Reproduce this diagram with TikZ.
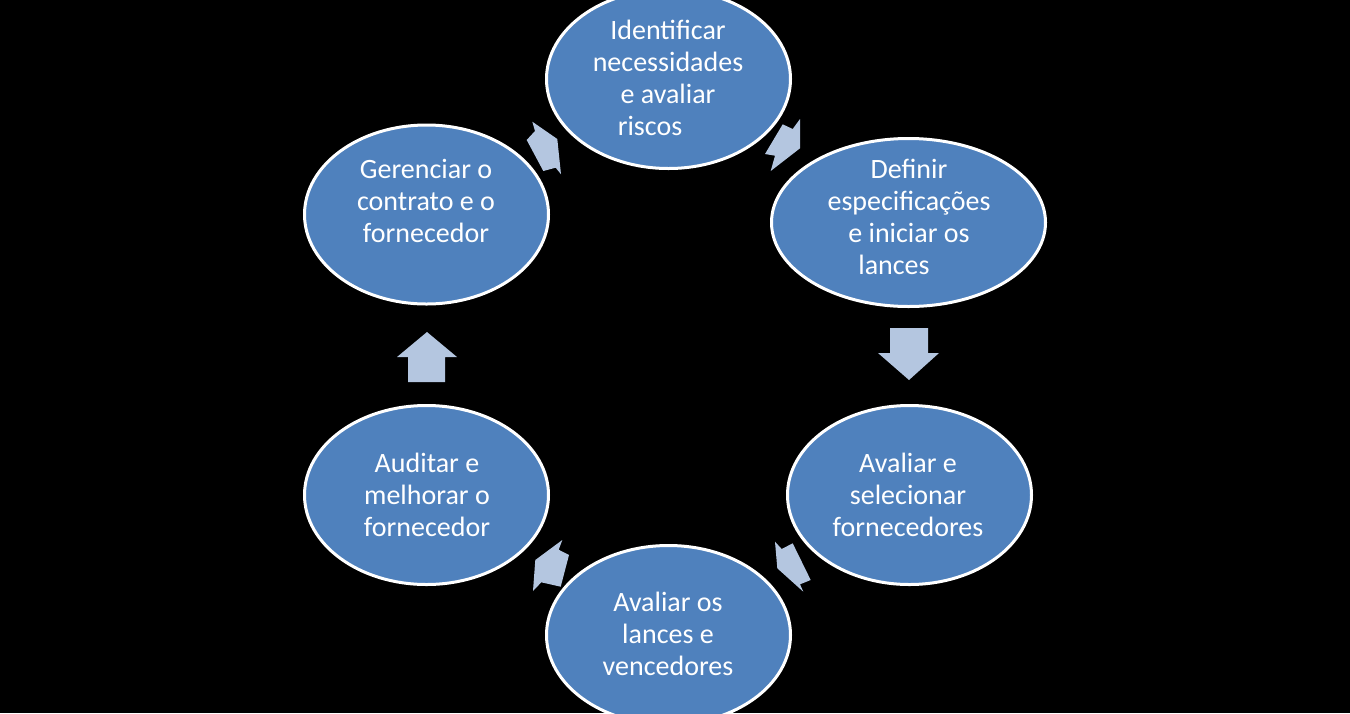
\documentclass[tikz,border=0pt]{standalone}
\usepackage{fontspec}
\setmainfont{Carlito}
\usetikzlibrary{shapes.geometric}
\definecolor{ellfill}{HTML}{4F81BD}
\definecolor{arrfill}{HTML}{B4C6E0}
\begin{document}
\begin{tikzpicture}[x=1pt,y=-1pt,
  stage/.style={ellipse, draw=white, line width=3pt, fill=ellfill,
    minimum width=244pt, minimum height=179pt, inner sep=0pt},
  widestage/.style={minimum width=274pt, minimum height=168pt},
  stagetext/.style={text=white, align=center, inner sep=0pt,
    font=\fontsize{28}{32}\selectfont},
  blockarrow/.style={fill=arrfill}]
\useasboundingbox (0,0) rectangle (1350,713);
\clip (0,0) rectangle (1350,713);
\fill[black] (0,0) rectangle (1350,713);

% block arrows
\fill[blockarrow] (890,328) -- (928,328) -- (928,353) -- (939,353) -- (909,380) -- (878,353) -- (890,353) -- cycle;
\fill[blockarrow] (408,382) -- (445,382) -- (445,357) -- (457,357) -- (427,332) -- (397,357) -- (408,357) -- cycle;
\fill[blockarrow] (526.7,140) -- (535,131) -- (532.3,121.7) -- (557.3,139) -- (561,174.3) -- (555.7,167.7) -- (543.3,171) -- cycle;
\fill[blockarrow] (782.7,124.3) -- (792.7,129) -- (800,119) -- (800,148.3) -- (770.7,171) -- (775,155.7) -- (765,154) -- cycle;
\fill[blockarrow] (792.7,543.3) -- (781.7,549) -- (775,541.7) -- (777.3,568.3) -- (803.3,591.7) -- (800,584.3) -- (810.7,580) -- cycle;
\fill[blockarrow] (569,555) -- (558.7,549.7) -- (562.3,540) -- (535.3,560) -- (533,591) -- (541.3,582.3) -- (560.7,586.7) -- cycle;

% ellipses
\node[stage] (e1) at (668.5,79) {};
\node[stage, widestage] (e2) at (908.5,222.5) {};
\node[stage] (e3) at (909.5,495) {};
\node[stage] (e4) at (668.5,635) {};
\node[stage] (e5) at (426.5,495) {};
\node[stage] (e6) at (426.5,214.5) {};

% texts
\node[stagetext] (t1) at (668,78) {Identificar\\necessidades\\e avaliar\\riscos\hspace*{36pt}};
\node[stagetext] (t2) at (909,216.5) {Definir\\especificações\\e iniciar os\\lances\hspace*{30pt}};
\node[stagetext] (t3) at (908,495) {Avaliar e\\selecionar\\fornecedores};
\node[stagetext] (t4) at (668,634) {Avaliar os\\lances e\\vencedores};
\node[stagetext] (t5) at (427,495) {Auditar e\\melhorar o\\fornecedor};
\node[stagetext] (t6) at (426,201) {Gerenciar o\\contrato e o\\fornecedor};
\end{tikzpicture}
\end{document}
